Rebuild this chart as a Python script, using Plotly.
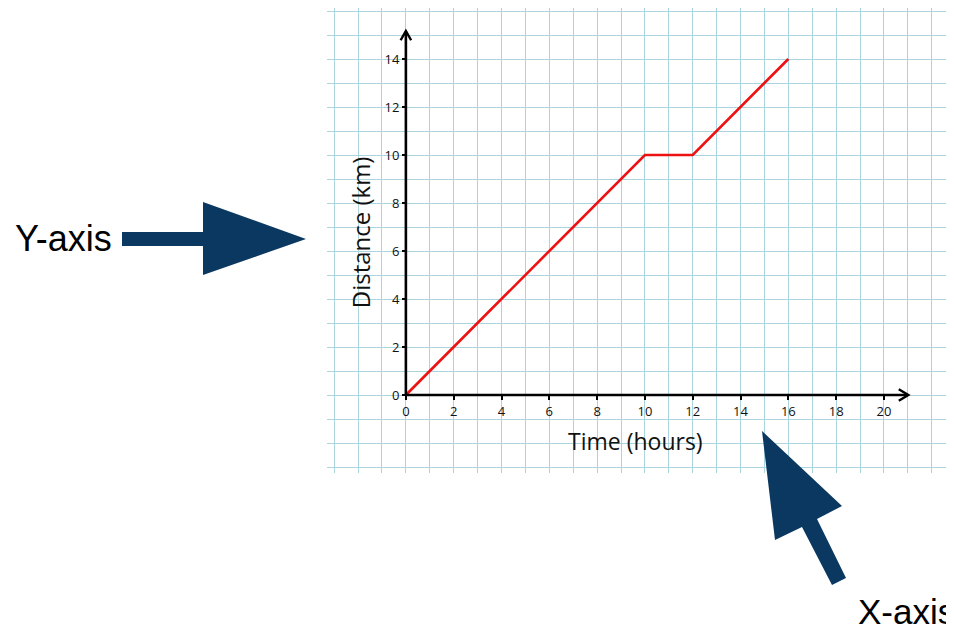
import plotly.graph_objects as go

# ---- data ----
time_hours = [0, 10, 12, 16]
distance_km = [0, 10, 10, 14]
x_tick_values = [0, 2, 4, 6, 8, 10, 12, 14, 16, 18, 20]
y_tick_values = [0, 2, 4, 6, 8, 10, 12, 14]
x_title = "Time (hours)"
y_title = "Distance (km)"

OFF = 8  # default page body margin
W, H = 954 - OFF, 627 - OFF
X_RANGE = [-3.3, 22.93]
Y_RANGE = [-3.25, 16.125]
GRID = "#aad4de"
FONT = "Open Sans"


def px(x, y):
    """page pixel -> paper coords"""
    return (x - OFF) / W, 1 - (y - OFF) / H


def poly(points):
    pts = [px(a, b) for a, b in points]
    return "M " + " L ".join(f"{a:.5f},{b:.5f}" for a, b in pts) + " Z"


fig = go.Figure()
fig.add_trace(go.Scatter(x=time_hours, y=distance_km, mode="lines",
                         line=dict(color="#ee1111", width=2.6),
                         xaxis="x", yaxis="y", showlegend=False,
                         hoverinfo="skip"))

shapes = []
shapes.append(dict(type="line", xref="x", yref="y", x0=0, y0=0, x1=21.0, y1=0,
                   line=dict(color="black", width=2.6)))
shapes.append(dict(type="line", xref="x", yref="y", x0=0, y0=0, x1=0, y1=15.15,
                   line=dict(color="black", width=2.6)))
shapes.append(dict(type="path", xref="x", yref="y",
                   path="M 20.62,0.24 L 21.02,0 L 20.62,-0.24",
                   line=dict(color="black", width=2.4)))
shapes.append(dict(type="path", xref="x", yref="y",
                   path="M -0.22,14.78 L 0,15.17 L 0.22,14.78",
                   line=dict(color="black", width=2.4)))
NAVY = "#0a3860"
shapes.append(dict(type="path", xref="paper", yref="paper",
                   path=poly([(122, 232), (203, 232), (203, 202), (306, 239),
                              (203, 275), (203, 246), (122, 246)]),
                   fillcolor=NAVY, line=dict(width=0)))
shapes.append(dict(type="path", xref="paper", yref="paper",
                   path=poly([(762, 431), (842, 506), (817, 519), (846, 578),
                              (832, 585), (802, 527), (775, 540)]),
                   fillcolor=NAVY, line=dict(width=0)))

annotations = [
    dict(text=x_title, xref="x", yref="y", x=9.6, y=-1.9, showarrow=False,
         font=dict(family=FONT, size=23, color="#111")),
    dict(text=y_title, xref="x", yref="y", x=-1.9, y=6.8, showarrow=False,
         textangle=-90, font=dict(family=FONT, size=24, color="#111")),
    dict(text="Y-axis", xref="paper", yref="paper", x=px(13, 0)[0],
         y=px(0, 238)[1], xanchor="left", yanchor="middle", showarrow=False,
         font=dict(family="Liberation Sans, Arial", size=36, color="black")),
    dict(text="X-axis", xref="paper", yref="paper", x=px(856, 0)[0],
         y=px(0, 611)[1], xanchor="left", yanchor="middle", showarrow=False,
         font=dict(family="Liberation Sans, Arial", size=35, color="black")),
]

grid_axis = dict(range=X_RANGE, dtick=1, tick0=0, showgrid=True, gridcolor=GRID,
                 gridwidth=1.4, zeroline=False, showticklabels=False,
                 ticks="", showline=False, fixedrange=True)

fig.update_layout(
    width=W, height=H,
    margin=dict(l=0, r=0, t=0, b=0),
    paper_bgcolor="white", plot_bgcolor="white",
    showlegend=False,
    xaxis=dict(grid_axis, domain=[px(327, 0)[0], 1.0], range=X_RANGE, anchor="y"),
    yaxis=dict(grid_axis, domain=[px(0, 473)[1], 1.0], range=Y_RANGE,
               anchor="x"),
    xaxis2=dict(overlaying="x", range=X_RANGE, anchor="free",
                position=px(0, 395)[1], tickmode="array", tickvals=x_tick_values,
                ticks="outside", ticklen=4, tickwidth=1.6, tickcolor="black",
                showgrid=False, zeroline=False, showline=False,
                tickfont=dict(family=FONT, size=13, color="#111")),
    yaxis2=dict(overlaying="y", range=Y_RANGE, anchor="free",
                position=px(406, 0)[0], tickmode="array", tickvals=y_tick_values,
                ticks="outside", ticklen=4, tickwidth=1.6, tickcolor="black",
                showgrid=False, zeroline=False, showline=False,
                tickfont=dict(family=FONT, size=13, color="#111")),
    shapes=shapes,
    annotations=annotations,
)
fig.add_trace(go.Scatter(x=[None], y=[None], xaxis="x2", yaxis="y2",
                         showlegend=False, hoverinfo="skip"))

fig.write_html("out.html")
